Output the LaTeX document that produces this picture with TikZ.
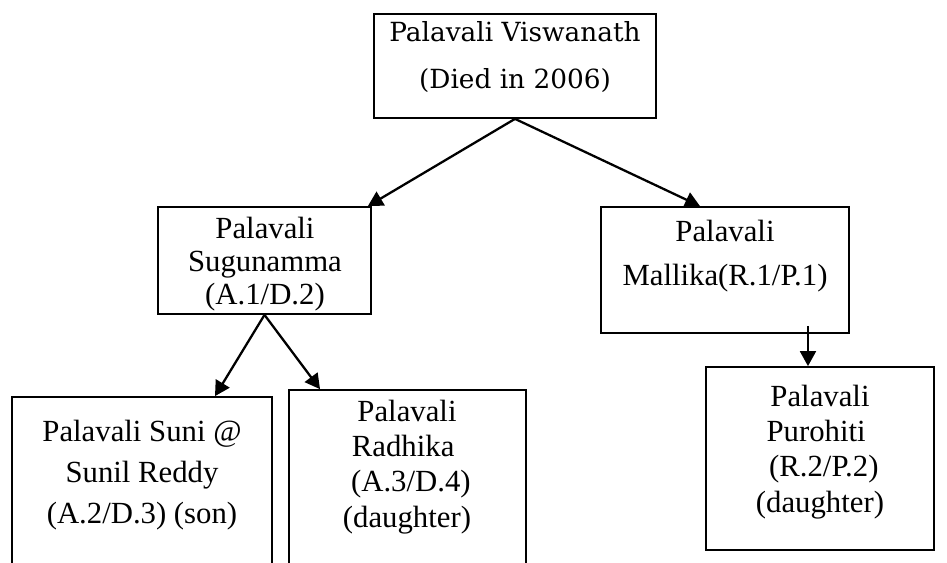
\documentclass[tikz,border=0pt]{standalone}
\usepackage{fontspec}
\setmainfont{Liberation Serif}
\newfontfamily\headfont{DejaVu Serif}
\usepackage{tikz}
\usetikzlibrary{positioning,arrows.meta,calc}
\tikzset{
person/.style={
draw,
line width=1pt,
inner sep=0pt
},
names/.style={
align=center,
inner sep=0pt,
font=\fontsize{17.5}{20}\selectfont
},
headnames/.style={
align=center,
inner sep=0pt,
font=\headfont\fontsize{15}{26.5}\selectfont
},
link/.style={
-{Triangle[length=8.5pt,width=9pt]},
line width=1.3pt
}
}

\begin{document}
\begin{tikzpicture}[x=0.02cm,y=-0.02cm]
\useasboundingbox (0,0) rectangle (947,562);
\fill[white] (0,0) rectangle (947,562);
\clip (0,0) rectangle (947,562);

\node[person,minimum width=5.64cm,minimum height=2.08cm](top) at (515,66){};
\node[person,minimum width=4.26cm,minimum height=2.14cm](sug) at (264.5,260.5){};
\node[person,minimum width=4.96cm,minimum height=2.52cm](mal) at (725,270){};
\node[person,minimum width=5.2cm,minimum height=4.06cm](suni) at (142,498.5){};
\node[person,minimum width=4.74cm,minimum height=4.2cm](rad) at (407.5,495){};
\node[person,minimum width=4.56cm,minimum height=3.66cm](pur) at (820,458.5){};

\node[headnames](toptext) at (515,57){Palavali Viswanath\\(Died in 2006)};
\node[names,font=\fontsize{17.5}{19}\selectfont](sugtext) at (265,264){Palavali\\Sugunamma\\(A.1/D.2)};
\node[names,font=\fontsize{17.5}{25}\selectfont](maltext) at (725,256){Palavali\\Mallika(R.1/P.1)};
\node[names,font=\fontsize{17.5}{23.5}\selectfont](sunitext) at (142,475){Palavali Suni @\\Sunil Reddy\\(A.2/D.3) (son)};
\node[names](radtext) at (407,467){Palavali\\Radhika\kern0.25em\\\kern0.25em(A.3/D.4)\\(daughter)};
\node[names](purtext) at (820,452){Palavali\\Purohiti\kern0.25em\\\kern0.25em(R.2/P.2)\\(daughter)};

\draw[link](top.south)--([xshift=-0.08cm]sug.north east);
\draw[link](top.south)--([xshift=-0.5cm]mal.north);
\draw[link](sug.south)--([xshift=1.46cm]suni.north);
\draw[link](sug.south)--([xshift=-1.75cm]rad.north);
\draw[link]([xshift=1.66cm,yshift=0.16cm]mal.south)--([xshift=1.66cm]mal.south |- pur.north);
\end{tikzpicture}
\end{document}
